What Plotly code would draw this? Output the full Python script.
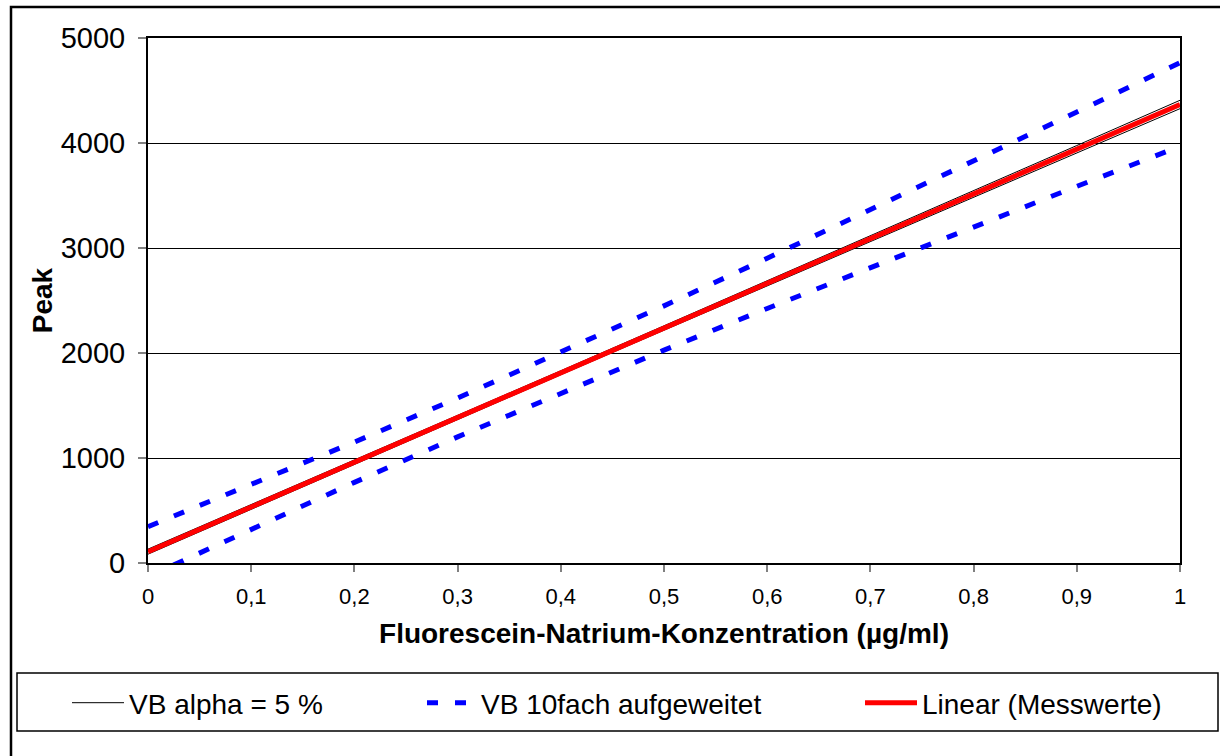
import plotly.graph_objects as go

# ---- data ----
x_conc = [0.0, 0.1, 0.2, 0.3, 0.4, 0.5, 0.6, 0.7, 0.8, 0.9, 1.0]
linear_messwerte = [108, 534, 960, 1386, 1812, 2238, 2663, 3089, 3515, 3941, 4367]
vb5_upper = [132, 555, 979, 1404, 1831, 2259, 2687, 3116, 3546, 3976, 4407]
vb5_lower = [84, 513, 941, 1368, 1793, 2217, 2639, 3062, 3484, 3906, 4327]
vb10_upper = [346, 744, 1152, 1571, 2004, 2449, 2902, 3363, 3828, 4295, 4765]
vb10_lower = [-130, 324, 768, 1201, 1620, 2027, 2424, 2815, 3202, 3587, 3969]
y_ticks = [0, 1000, 2000, 3000, 4000, 5000]
x_ticks = [0.0, 0.1, 0.2, 0.3, 0.4, 0.5, 0.6, 0.7, 0.8, 0.9, 1.0]

name_vb5 = "VB alpha = 5 %"
name_vb10 = "VB 10fach aufgeweitet"
name_lin = "Linear (Messwerte)"
x_title = "Fluorescein-Natrium-Konzentration (µg/ml)"
y_title = "Peak"

# ---- layout geometry ----
FONT = "Liberation Sans, Arial, sans-serif"
W, H = 1220, 756
L, R, T, B = 148, 40, 38, 193
PW, PH = W - L - R, H - T - B


def px_x(px):
    return (px - L) / PW


def px_y(py):
    return (H - B - py) / PH


fig = go.Figure()
fig.add_trace(go.Scatter(
    x=x_conc + [None] + x_conc, y=vb5_upper + [None] + vb5_lower,
    mode="lines", line=dict(color="black", width=1),
    name=name_vb5, legend="legend", showlegend=True, connectgaps=False))
fig.add_trace(go.Scatter(
    x=x_conc + [None] + x_conc, y=vb10_upper + [None] + vb10_lower,
    mode="lines", line=dict(color="#0000ff", width=5, dash="11px,17px"),
    name=name_vb10, legend="legend2", showlegend=True, connectgaps=False))
fig.add_trace(go.Scatter(
    x=x_conc, y=linear_messwerte,
    mode="lines", line=dict(color="#ff0000", width=5),
    name=name_lin, legend="legend3", showlegend=True))

leg_common = dict(
    yanchor="middle", xanchor="left", orientation="h",
    font=dict(family=FONT, size=28, color="black"),
    bgcolor="rgba(0,0,0,0)", borderwidth=0,
)

fig.update_layout(
    width=W, height=H,
    showlegend=True,
    margin=dict(l=L, r=R, t=T, b=B, autoexpand=False),
    paper_bgcolor="white", plot_bgcolor="white",
    separators=",.",
    font=dict(family=FONT, color="black"),
    legend=dict(x=px_x(67), y=px_y(703), itemwidth=52, **leg_common),
    legend2=dict(x=px_x(422), y=px_y(703), itemwidth=49, **leg_common),
    legend3=dict(x=px_x(860), y=px_y(703), itemwidth=52, **leg_common),
    xaxis=dict(
        range=[0, 1], tickvals=x_ticks, ticks="outside", ticklen=7,
        tickcolor="#808080", tickwidth=1.5, ticklabelstandoff=6,
        showline=True, linecolor="black", linewidth=2, mirror=True,
        showgrid=False, zeroline=False,
        tickfont=dict(size=22, family=FONT, color="black"),
        title=dict(text="<b>" + x_title + "</b>",
                   font=dict(size=28, family=FONT, color="black"), standoff=15),
    ),
    xaxis2=dict(
        range=[0, 1], overlaying="x", anchor="y", side="bottom",
        tickvals=x_ticks, ticks="inside", ticklen=6, tickcolor="#808080", tickwidth=1.5,
        showticklabels=False, showgrid=False, zeroline=False, showline=False,
    ),
    yaxis=dict(
        range=[0, 5000], tickvals=y_ticks, ticks="outside", ticklen=8,
        tickcolor="#808080", tickwidth=1.5, ticklabelstandoff=7,
        showline=True, linecolor="black", linewidth=2, mirror=True,
        showgrid=True, gridcolor="black", gridwidth=1, zeroline=False,
        tickfont=dict(size=29, family=FONT, color="black"),
        title=dict(text="<b>" + y_title + "</b>",
                   font=dict(size=28, family=FONT, color="black"), standoff=0),
    ),
    shapes=[
        dict(type="rect", xref="paper", yref="paper",
             x0=px_x(11), x1=px_x(1230), y0=px_y(770), y1=px_y(7),
             line=dict(color="black", width=2.5), fillcolor="rgba(0,0,0,0)", layer="below"),
        dict(type="rect", xref="paper", yref="paper",
             x0=px_x(17), x1=px_x(1218), y0=px_y(731), y1=px_y(673),
             line=dict(color="black", width=1.5), fillcolor="rgba(0,0,0,0)", layer="below"),
    ],
)

fig.write_html("out.html", config={"displayModeBar": False},
               post_script="document.body.style.margin='0px';")
